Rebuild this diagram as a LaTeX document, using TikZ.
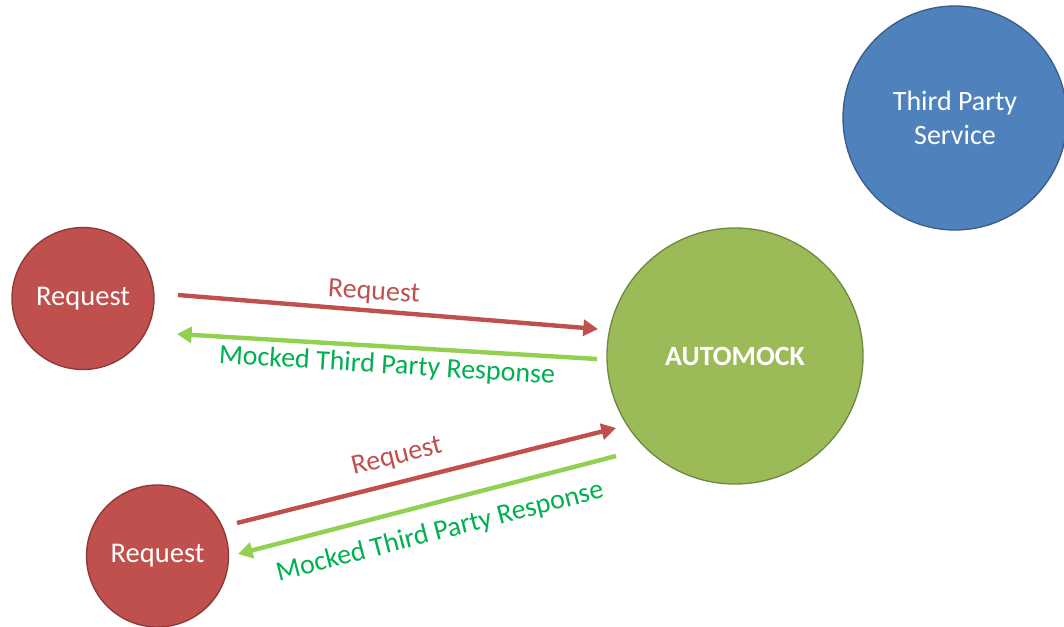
\documentclass[tikz,border=0pt]{standalone}
\usepackage{fontspec}
\setmainfont{Carlito}
\usetikzlibrary{arrows.meta}
\definecolor{redfill}{HTML}{C0504D}
\definecolor{redline}{HTML}{8C3836}
\definecolor{greenfill}{HTML}{9BBB59}
\definecolor{greenline}{HTML}{71893F}
\definecolor{bluefill}{HTML}{4F81BD}
\definecolor{blueline}{HTML}{385D8A}
\definecolor{redarrow}{HTML}{C0504D}
\definecolor{greenarrow}{HTML}{92D050}
\definecolor{greentext}{HTML}{00B050}
\tikzset{
  bubble/.style={circle, line width=1pt, text=white, align=center, inner sep=0pt},
  reqnode/.style={bubble, fill=redfill, draw=redline, minimum size=106.5pt, font=\fontsize{21.4}{25}\selectfont},
  reqarrow/.style={draw=redarrow, line width=3.3pt, -{Triangle[length=11pt,width=12pt]}},
  resparrow/.style={draw=greenarrow, line width=3.3pt, -{Triangle[length=11pt,width=12pt]}},
  reqlabel/.style={text=redarrow, font=\fontsize{21}{25}\selectfont, inner sep=0pt},
  resplabel/.style={text=greentext, font=\fontsize{21}{25}\selectfont, inner sep=0pt}
}
\begin{document}
\begin{tikzpicture}[x=0.75pt, y=-0.75pt]
\useasboundingbox (0,0) rectangle (1064,626);
\node[reqnode] (r1) at (83,298.5) {Request};
\node[reqnode] (r2) at (157.5,556) {Request};
\node[bubble, fill=greenfill, draw=greenline, minimum size=192pt, font=\bfseries\fontsize{20.9}{25}\selectfont] (am) at (735,356) {AUTOMOCK};
\node[bubble, fill=bluefill, draw=blueline, minimum size=168pt, font=\fontsize{21}{26}\selectfont] (tp) at (955,118) {Third Party\\Service};
% top pair
\coordinate (a1s) at (178,295);
\coordinate (a1e) at (598,329);
\coordinate (g1s) at (597,359);
\coordinate (g1e) at (177,334);
\draw[reqarrow] (a1s) -- (a1e);
\draw[resparrow] (g1s) -- (g1e);
\node[reqlabel, rotate=-3.5] (l1) at (374,293) {Request};
\node[resplabel, rotate=-3.5] (l2) at (387,366) {Mocked Third Party Response};
% bottom pair
\coordinate (a2s) at (237,523);
\coordinate (a2e) at (616,428);
\coordinate (g2s) at (616,456);
\coordinate (g2e) at (238,554);
\draw[reqarrow] (a2s) -- (a2e);
\draw[resparrow] (g2s) -- (g2e);
\node[reqlabel, rotate=14] (l3) at (397,457) {Request};
\node[resplabel, rotate=14.5] (l4) at (440,532) {Mocked Third Party Response};
\end{tikzpicture}
\end{document}
